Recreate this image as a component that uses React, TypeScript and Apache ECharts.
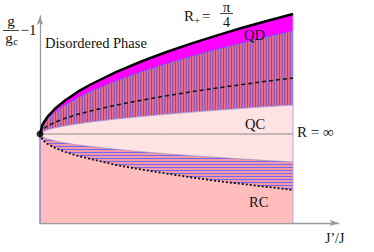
import React, { useEffect, useRef } from "react";
import * as echarts from "echarts";

// abscissa J'/J (normalised, 0 .. 1 is the shaded range)
const tValues = [0, 0.01, 0.03, 0.06, 0.1, 0.15, 0.2, 0.3, 0.4, 0.5, 0.6, 0.7, 0.8, 0.9, 1.0];
// upper boundary R+ = pi/4 (bold black)
const topCurve = [0, 0.095, 0.174, 0.255, 0.338, 0.423, 0.495, 0.619, 0.725, 0.82, 0.906, 0.986, 1.062, 1.132, 1.2];
// upper edge of vertically hatched region (QD lower edge)
const hatchTop = [0, 0.082, 0.15, 0.219, 0.29, 0.363, 0.425, 0.531, 0.622, 0.703, 0.778, 0.847, 0.911, 0.972, 1.03];
// dashed curve inside upper hatched band
const dashedCurve = [0, 0.044, 0.081, 0.119, 0.158, 0.197, 0.231, 0.289, 0.338, 0.382, 0.423, 0.46, 0.495, 0.529, 0.56];
// lower edge of vertically hatched region
const hatchBottom = [0, 0.023, 0.042, 0.062, 0.082, 0.102, 0.12, 0.15, 0.175, 0.198, 0.219, 0.238, 0.257, 0.274, 0.29];
// upper edge of horizontally hatched band (below R = inf line)
const lowerHatchTop = [0, -0.03, -0.05, -0.07, -0.09, -0.11, -0.125, -0.153, -0.177, -0.198, -0.217, -0.234, -0.25, -0.266, -0.28];
// dotted curve (lower edge of horizontally hatched band)
const dottedCurve = [0, -0.06, -0.1, -0.14, -0.18, -0.22, -0.25, -0.31, -0.355, -0.395, -0.435, -0.47, -0.5, -0.53, -0.56];
// R = infinity line
const rInfLine = [0, 0, 0, 0, 0, 0, 0, 0, 0, 0, 0, 0, 0, 0, 0];

const Y_MIN = -0.89;
const Y_MAX = 1.18;
const X_MAX = 1.18;
const bottomLine = tValues.map(() => Y_MIN);

const FONT_FAMILY = "'Liberation Serif', 'Times New Roman', serif";

function svgUrl(svg: string): string {
  return "data:image/svg+xml;charset=utf-8," + encodeURIComponent(svg);
}

const vStripeSvg =
  '<svg xmlns="http://www.w3.org/2000/svg" width="8" height="4">' +
  '<rect x="0" y="0" width="8" height="4" fill="#F0707A"/>' +
  '<rect x="1.65" y="0" width="1.0" height="4" fill="#6A50E6"/>' +
  '<rect x="4.3" y="0" width="1.0" height="4" fill="#6A50E6"/>' +
  '<rect x="7.0" y="0" width="1.0" height="4" fill="#6A50E6"/>' +
  "</svg>";

const hStripeSvg =
  '<svg xmlns="http://www.w3.org/2000/svg" width="4" height="3">' +
  '<rect x="0" y="0" width="4" height="3" fill="#F39AA8"/>' +
  '<rect x="0" y="2" width="4" height="1" fill="#7468F0"/>' +
  "</svg>";

function pairs(vals: number[]): number[][] {
  return tValues.map((t, i) => [t, vals[i]]);
}

function band(upper: number[], lower: number[], fill: any, z: number) {
  return {
    type: "custom",
    coordinateSystem: "cartesian2d",
    data: [[0, 0]],
    silent: true,
    clip: false,
    z,
    renderItem: (_params: any, api: any) => {
      const up = tValues.map((t, i) => api.coord([t, upper[i]]));
      const lo = tValues.map((t, i) => api.coord([t, lower[i]])).reverse();
      return {
        type: "polygon",
        shape: { points: up.concat(lo) },
        style: { fill, stroke: null, lineWidth: 0 },
      };
    },
  };
}

export default function App() {
  const ref = useRef<HTMLDivElement>(null);

  useEffect(() => {
    document.body.style.margin = "0";
    if (!ref.current) return;
    const chart = echarts.init(ref.current, undefined, { renderer: "svg" });

    const vPattern = {
      image: svgUrl(vStripeSvg),
      repeat: "repeat",
      imageWidth: 8,
      imageHeight: 4,
    };
    const hPattern = {
      image: svgUrl(hStripeSvg),
      repeat: "repeat",
      imageWidth: 4,
      imageHeight: 3,
    };

    const lineBase = {
      type: "line",
      showSymbol: false,
      symbol: "none",
      smooth: false,
      clip: false,
      silent: true,
    };

    const axisCommon = {
      type: "value",
      axisLine: {
        show: true,
        onZero: false,
        lineStyle: { color: "#9a9a9a", width: 1.3 },
        symbol: ["none", "arrow"],
        symbolSize: [5, 9],
      },
      axisTick: { show: false },
      axisLabel: { show: false },
      splitLine: { show: false },
    };

    const txt = (text: string, x: number, y: number, size = 14.5, align = "left") => ({
      type: "text",
      x,
      y,
      z: 100,
      style: {
        text,
        fontFamily: FONT_FAMILY,
        fontSize: size,
        fill: "#111",
        align,
        verticalAlign: "middle",
      },
    });
    const hline = (x1: number, x2: number, y: number) => ({
      type: "line",
      z: 100,
      shape: { x1, y1: y, x2, y2: y },
      style: { stroke: "#111", lineWidth: 0.8 },
    });

    const option = {
      animation: false,
      grid: { left: 40, right: 374 - 40 - X_MAX * 253, top: 16, bottom: 29 },
      xAxis: { ...axisCommon, min: 0, max: X_MAX },
      yAxis: { ...axisCommon, min: Y_MIN, max: Y_MAX },
      series: [
        band(topCurve, hatchTop, "#FF00FF", 2),
        band(hatchTop, hatchBottom, vPattern, 2),
        band(hatchBottom, rInfLine, "#FFE2E2", 2),
        band(rInfLine, lowerHatchTop, "#FFE2E2", 2),
        band(lowerHatchTop, dottedCurve, hPattern, 2),
        band(dottedCurve, bottomLine, "#FFBDBD", 2),
        // thin boundaries of the hatched bands
        {
          ...lineBase,
          data: pairs(hatchTop),
          lineStyle: { color: "#5a55f0", width: 0.8 },
          z: 4,
        },
        {
          ...lineBase,
          data: pairs(hatchBottom),
          lineStyle: { color: "#a08ad8", width: 0.8 },
          z: 4,
        },
        {
          ...lineBase,
          data: pairs(lowerHatchTop),
          lineStyle: { color: "#9a8cc0", width: 0.7 },
          z: 4,
        },
        // R = infinity line
        {
          ...lineBase,
          data: pairs(rInfLine),
          lineStyle: { color: "#8a8a8a", width: 1 },
          z: 5,
        },
        // right edge of shaded region
        {
          ...lineBase,
          data: [
            [1, topCurve[topCurve.length - 1]],
            [1, Y_MIN],
          ],
          lineStyle: { color: "#b9a2ea", width: 1 },
          z: 5,
        },
        // left edge below origin
        {
          ...lineBase,
          data: [
            [0, 0],
            [0, Y_MIN],
          ],
          lineStyle: { color: "#7d70e0", width: 1.2 },
          z: 5,
        },
        // dashed curve
        {
          ...lineBase,
          data: pairs(dashedCurve),
          lineStyle: { color: "#111", width: 1.5, type: [4, 3] },
          z: 6,
        },
        // dotted curve
        {
          ...lineBase,
          data: pairs(dottedCurve),
          lineStyle: { color: "#111", width: 1.8, type: [2, 2] },
          z: 6,
        },
        // top bold boundary
        {
          ...lineBase,
          data: pairs(topCurve),
          lineStyle: { color: "#000", width: 2.5 },
          z: 7,
        },
        // critical point
        {
          type: "scatter",
          data: [[0, 0]],
          symbol: "circle",
          symbolSize: 7,
          itemStyle: { color: "#000" },
          silent: true,
          z: 8,
        },
      ],
      graphic: [
        // y-axis label g/g_c - 1
        txt("g", 11, 21, 15, "center"),
        hline(3, 19, 30.5),
        txt("g", 9, 38, 15, "center"),
        txt("c", 15.5, 41, 10.5, "center"),
        txt("\u22121", 20.5, 30, 15),
        txt("Disordered Phase", 45, 43, 14.5),
        // R+ = pi/4
        txt("R", 184, 16, 15),
        txt("+", 194, 20, 11),
        txt("=", 202, 16, 15),
        txt("\u03c0", 226.5, 7, 15, "center"),
        hline(220, 233, 13.5),
        txt("4", 226.5, 22, 14, "center"),
        txt("QD", 244, 35, 14.5),
        txt("QC", 245, 124, 14.5),
        txt("R = \u221e", 297, 132, 15),
        txt("RC", 249, 202, 14.5),
        txt("J\u2019/J", 325, 238, 14),
      ],
    };

    chart.setOption(option as any);
    return () => {
      chart.dispose();
    };
  }, []);

  return <div ref={ref} style={{ width: 374, height: 252 }} />;
}
